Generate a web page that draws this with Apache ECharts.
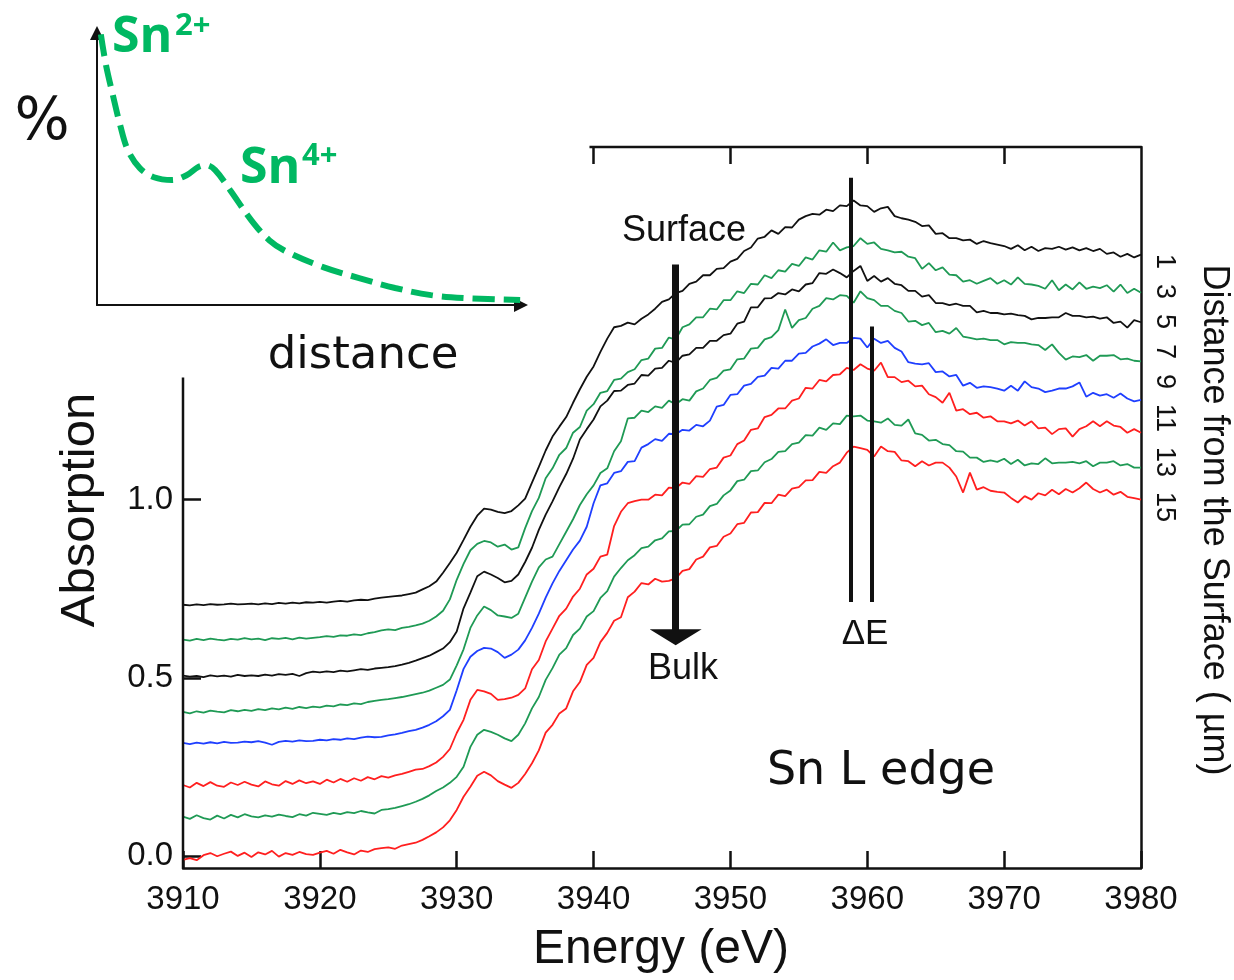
<!DOCTYPE html>
<html>
<head>
<meta charset="utf-8">
<script src="https://cdn.jsdelivr.net/npm/echarts@6/dist/echarts.min.js"></script>
<style>
  html, body { margin: 0; padding: 0; background: #fff; }
  #chart { width: 1234px; height: 980px; }
</style>
</head>
<body>
<div id="chart"></div>
<script>
// energy grid (eV), 0.5 eV steps
var ENERGY = [
  3910, 3910.5, 3911, 3911.5, 3912, 3912.5, 3913, 3913.5, 3914, 3914.5,
  3915, 3915.5, 3916, 3916.5, 3917, 3917.5, 3918, 3918.5, 3919, 3919.5,
  3920, 3920.5, 3921, 3921.5, 3922, 3922.5, 3923, 3923.5, 3924, 3924.5,
  3925, 3925.5, 3926, 3926.5, 3927, 3927.5, 3928, 3928.5, 3929, 3929.5,
  3930, 3930.5, 3931, 3931.5, 3932, 3932.5, 3933, 3933.5, 3934, 3934.5,
  3935, 3935.5, 3936, 3936.5, 3937, 3937.5, 3938, 3938.5, 3939, 3939.5,
  3940, 3940.5, 3941, 3941.5, 3942, 3942.5, 3943, 3943.5, 3944, 3944.5,
  3945, 3945.5, 3946, 3946.5, 3947, 3947.5, 3948, 3948.5, 3949, 3949.5,
  3950, 3950.5, 3951, 3951.5, 3952, 3952.5, 3953, 3953.5, 3954, 3954.5,
  3955, 3955.5, 3956, 3956.5, 3957, 3957.5, 3958, 3958.5, 3959, 3959.5,
  3960, 3960.5, 3961, 3961.5, 3962, 3962.5, 3963, 3963.5, 3964, 3964.5,
  3965, 3965.5, 3966, 3966.5, 3967, 3967.5, 3968, 3968.5, 3969, 3969.5,
  3970, 3970.5, 3971, 3971.5, 3972, 3972.5, 3973, 3973.5, 3974, 3974.5,
  3975, 3975.5, 3976, 3976.5, 3977, 3977.5, 3978, 3978.5, 3979, 3979.5,
  3980
];

// absorption spectra (offset), one per depth
var ABS_1UM = [
  .705,.703,.706,.704,.707,.705,.706,.708,.706,.707,
  .708,.706,.709,.707,.710,.708,.711,.709,.712,.711,
  .713,.711,.714,.716,.714,.717,.719,.718,.722,.725,
  .727,.729,.731,.735,.739,.748,.757,.770,.795,.822,
  .851,.887,.924,.955,.975,.972,.966,.962,.968,.984,
  1.003,1.048,1.092,1.138,1.177,1.205,1.232,1.272,1.310,1.345,
  1.374,1.415,1.452,1.484,1.488,1.497,1.492,1.508,1.520,1.536,
  1.555,1.562,1.580,1.586,1.606,1.612,1.630,1.630,1.648,1.650,
  1.668,1.676,1.698,1.708,1.733,1.738,1.756,1.746,1.765,1.764,
  1.786,1.796,1.802,1.800,1.814,1.810,1.826,1.824,1.840,1.826,
  1.824,1.808,1.818,1.822,1.796,1.790,1.786,1.780,1.768,1.770,
  1.746,1.748,1.734,1.734,1.728,1.730,1.718,1.726,1.720,1.716,
  1.712,1.704,1.714,1.700,1.710,1.698,1.706,1.704,1.710,1.702,
  1.708,1.700,1.706,1.698,1.704,1.690,1.694,1.682,1.690,1.680,
  1.688
];
var ABS_3UM = [
  .607,.604,.609,.606,.610,.607,.605,.609,.607,.611,
  .608,.610,.606,.611,.609,.612,.608,.613,.610,.612,
  .614,.617,.615,.619,.618,.622,.620,.625,.628,.633,
  .636,.634,.640,.643,.647,.652,.660,.672,.688,.720,
  .775,.820,.858,.876,.884,.880,.868,.874,.860,.866,
  .920,.968,1.005,1.060,1.088,1.126,1.145,1.188,1.204,1.250,
  1.268,1.300,1.305,1.336,1.340,1.358,1.366,1.392,1.396,1.424,
  1.426,1.455,1.450,1.484,1.492,1.512,1.512,1.536,1.534,1.560,
  1.560,1.585,1.580,1.606,1.604,1.630,1.622,1.644,1.640,1.662,
  1.656,1.680,1.674,1.700,1.696,1.722,1.700,1.708,1.712,1.734,
  1.718,1.722,1.704,1.700,1.694,1.696,1.682,1.678,1.648,1.664,
  1.644,1.652,1.632,1.630,1.612,1.616,1.606,1.614,1.622,1.606,
  1.616,1.604,1.624,1.606,1.604,1.600,1.592,1.616,1.588,1.604,
  1.590,1.610,1.592,1.598,1.594,1.602,1.584,1.604,1.580,1.592,
  1.581
];
var ABS_5UM = [
  .506,.503,.505,.502,.507,.504,.506,.503,.508,.505,
  .507,.505,.509,.506,.510,.508,.511,.505,.513,.517,
  .515,.518,.516,.520,.518,.521,.524,.522,.526,.528,
  .530,.533,.537,.542,.548,.555,.562,.572,.582,.600,
  .630,.695,.739,.785,.798,.790,.780,.768,.772,.790,
  .825,.865,.915,.958,.995,1.035,1.072,1.115,1.169,1.198,
  1.225,1.262,1.278,1.305,1.306,1.322,1.326,1.350,1.348,1.368,
  1.370,1.390,1.384,1.404,1.408,1.426,1.426,1.446,1.446,1.462,
  1.466,1.494,1.500,1.540,1.540,1.565,1.566,1.580,1.576,1.590,
  1.585,1.604,1.608,1.636,1.634,1.646,1.636,1.624,1.642,1.656,
  1.614,1.628,1.612,1.622,1.606,1.602,1.586,1.586,1.570,1.574,
  1.552,1.552,1.546,1.550,1.544,1.544,1.526,1.530,1.524,1.524,
  1.520,1.522,1.518,1.516,1.506,1.510,1.510,1.512,1.512,1.524,
  1.516,1.516,1.512,1.514,1.508,1.512,1.496,1.500,1.483,1.504,
  1.498
];
var ABS_7UM = [
  .404,.400,.406,.402,.408,.405,.403,.409,.406,.410,
  .407,.412,.409,.414,.411,.416,.413,.418,.415,.419,
  .417,.422,.420,.425,.423,.428,.426,.432,.435,.438,
  .440,.443,.446,.450,.454,.458,.464,.472,.480,.495,
  .535,.580,.640,.675,.700,.690,.675,.672,.668,.680,
  .725,.770,.810,.832,.840,.875,.910,.945,.985,1.015,
  1.040,1.075,1.088,1.136,1.164,1.228,1.230,1.250,1.246,1.262,
  1.258,1.278,1.268,1.282,1.278,1.304,1.312,1.336,1.342,1.362,
  1.366,1.394,1.396,1.424,1.426,1.450,1.456,1.476,1.534,1.482,
  1.504,1.510,1.536,1.544,1.566,1.562,1.574,1.572,1.553,1.585,
  1.566,1.560,1.544,1.544,1.530,1.524,1.500,1.502,1.490,1.496,
  1.470,1.474,1.466,1.482,1.458,1.454,1.450,1.452,1.448,1.448,
  1.436,1.442,1.440,1.440,1.436,1.434,1.420,1.436,1.412,1.393,
  1.402,1.400,1.406,1.390,1.404,1.404,1.406,1.394,1.396,1.390,
  1.388
];
var ABS_9UM = [
  .317,.314,.318,.315,.319,.316,.320,.317,.318,.321,
  .319,.322,.318,.312,.320,.323,.321,.324,.322,.323,
  .326,.324,.328,.326,.330,.328,.332,.335,.333,.334,
  .338,.341,.345,.350,.354,.360,.368,.378,.392,.410,
  .465,.525,.559,.575,.584,.582,.572,.556,.565,.579,
  .605,.640,.680,.725,.765,.800,.830,.860,.885,.924,
  .990,1.040,1.046,1.075,1.080,1.106,1.108,1.146,1.156,1.170,
  1.165,1.185,1.184,1.196,1.194,1.210,1.206,1.222,1.261,1.266,
  1.294,1.296,1.320,1.325,1.345,1.348,1.370,1.368,1.390,1.390,
  1.410,1.412,1.430,1.438,1.450,1.434,1.440,1.440,1.454,1.452,
  1.427,1.452,1.440,1.446,1.426,1.416,1.386,1.382,1.380,1.383,
  1.358,1.360,1.346,1.350,1.320,1.328,1.314,1.318,1.316,1.312,
  1.306,1.320,1.306,1.332,1.316,1.312,1.302,1.306,1.312,1.312,
  1.318,1.329,1.289,1.300,1.292,1.296,1.286,1.298,1.284,1.276,
  1.280
];
var ABS_11UM = [
  .199,.192,.205,.196,.207,.197,.194,.206,.199,.208,
  .200,.195,.209,.201,.197,.210,.202,.212,.204,.209,
  .202,.214,.206,.216,.208,.218,.211,.221,.215,.224,
  .220,.226,.230,.236,.242,.244,.252,.262,.278,.300,
  .345,.382,.438,.466,.462,.455,.438,.440,.444,.452,
  .470,.524,.550,.602,.638,.674,.694,.728,.750,.790,
  .806,.840,.846,.926,.966,.990,.996,1.000,1.000,1.014,
  1.012,1.034,1.032,1.048,1.044,1.066,1.064,1.086,1.090,1.118,
  1.124,1.156,1.166,1.196,1.200,1.232,1.238,1.256,1.256,1.278,
  1.284,1.314,1.312,1.336,1.332,1.350,1.352,1.370,1.364,1.380,
  1.368,1.362,1.385,1.344,1.344,1.330,1.334,1.318,1.320,1.296,
  1.288,1.272,1.300,1.250,1.254,1.240,1.244,1.230,1.234,1.220,
  1.220,1.214,1.222,1.208,1.220,1.200,1.202,1.184,1.198,1.200,
  1.177,1.198,1.206,1.220,1.206,1.220,1.208,1.204,1.188,1.198,
  1.188
];
var ABS_13UM = [
  .110,.104,.114,.106,.102,.113,.105,.115,.108,.117,
  .111,.108,.114,.110,.116,.112,.109,.117,.113,.121,
  .118,.115,.121,.117,.123,.120,.126,.122,.119,.129,
  .131,.135,.140,.145,.152,.160,.170,.182,.192,.205,
  .222,.250,.306,.340,.354,.348,.340,.330,.322,.340,
  .372,.414,.446,.494,.527,.565,.583,.620,.638,.672,
  .687,.724,.743,.784,.808,.830,.844,.864,.868,.886,
  .891,.911,.912,.930,.931,.952,.958,.982,.988,1.012,
  1.026,1.052,1.056,1.080,1.082,1.105,1.114,1.134,1.136,1.156,
  1.160,1.181,1.180,1.202,1.196,1.214,1.212,1.236,1.234,1.236,
  1.222,1.220,1.216,1.228,1.210,1.208,1.225,1.186,1.182,1.166,
  1.168,1.156,1.153,1.136,1.135,1.118,1.118,1.106,1.110,1.106,
  1.115,1.100,1.112,1.096,1.102,1.100,1.116,1.102,1.104,1.104,
  1.106,1.102,1.108,1.094,1.104,1.104,1.108,1.096,1.100,1.090,
  1.090
];
var ABS_15UM = [
  -.011,-.006,-.012,.002,.008,-.001,.006,.012,.000,.009,
  -.003,.010,.004,.014,-.002,.008,.003,.011,.005,.003,
  .009,.014,.006,.017,.010,.004,.015,.011,.019,.022,
  .024,.020,.029,.033,.037,.045,.055,.066,.080,.100,
  .129,.166,.194,.225,.236,.226,.210,.200,.191,.205,
  .230,.260,.296,.346,.368,.400,.414,.462,.488,.536,
  .556,.600,.626,.660,.670,.726,.742,.766,.762,.778,
  .770,.772,.779,.800,.805,.832,.840,.866,.870,.896,
  .905,.931,.935,.964,.965,.991,.990,1.014,1.010,1.031,
  1.035,1.054,1.055,1.078,1.075,1.094,1.104,1.132,1.149,1.145,
  1.140,1.121,1.149,1.136,1.134,1.110,1.108,1.094,1.108,1.096,
  1.104,1.104,1.090,1.065,1.020,1.076,1.028,1.035,1.025,1.022,
  1.020,1.005,.992,1.010,1.000,1.018,1.012,1.028,1.015,1.030,
  1.020,1.032,1.048,1.030,1.020,1.028,1.014,1.022,1.008,1.004,
  1.000
];

var DEPTH_LABELS = ["1", "3", "5", "7", "9", "11", "13", "15"];
var X_TICKS_TOP = [3940, 3950, 3960, 3970];
var Y_TICKS = [0, 0.5, 1.0];

// inset sketch: % vs distance (arbitrary units)
var INSET_DIST = [0.9, 2.1, 3.7, 5.4, 7.2, 10.0, 13.3, 17.5, 21.0, 23.6, 25.5, 27.6, 31.1, 36.0, 40.2, 44.4, 52.8, 61.2, 69.6, 78.0, 86.4, 98.8];
var INSET_PCT = [98.5, 87.3, 76.4, 65.5, 56.4, 49.8, 46.5, 45.5, 47.3, 50.2, 50.9, 49.1, 41.8, 30.9, 23.6, 19.3, 13.8, 9.8, 6.2, 3.6, 2.5, 1.8];

// annotation positions in data units
var ARROW_E = 3946.0, ARROW_TOP = 1.66, ARROW_END = 0.614;
var DE_E1 = 3958.8, DE_E2 = 3960.3, DE_TOP1 = 1.904, DE_TOP2 = 1.486, DE_BOTTOM = 0.713;

var Y_MIN = -0.034, Y_MAX = 1.99;

var BLACK = "#111111";
var GREEN = "#1f9a55";
var BLUE = "#1f3fff";
var RED = "#ff1f1f";
var INSET_GREEN = "#00b862";
var SANS = '"Liberation Sans", Arial, sans-serif';

var curves = [
  { name: "1", values: ABS_1UM, color: BLACK },
  { name: "3", values: ABS_3UM, color: GREEN },
  { name: "5", values: ABS_5UM, color: BLACK },
  { name: "7", values: ABS_7UM, color: GREEN },
  { name: "9", values: ABS_9UM, color: BLUE },
  { name: "11", values: ABS_11UM, color: RED },
  { name: "13", values: ABS_13UM, color: GREEN },
  { name: "15", values: ABS_15UM, color: RED },
];

var pair = (xs, ys) => xs.map((x, i) => [x, ys[i]]);

var series = curves.map((c) => ({
  name: c.name + " um",
  type: "line",
  xAxisIndex: 0,
  yAxisIndex: 0,
  data: pair(ENERGY, c.values),
  showSymbol: false,
  silent: true,
  lineStyle: { color: c.color, width: 1.8 },
  z: 3,
}));

// partial left axis line (the inset sits above it) + the two delta-E lines
series.push({
  name: "left frame",
  type: "line",
  xAxisIndex: 0,
  yAxisIndex: 0,
  data: [[3910, Y_MIN], [3910, 1.343]],
  showSymbol: false,
  silent: true,
  clip: false,
  lineStyle: { color: BLACK, width: 2.5 },
  markLine: {
    silent: true,
    animation: false,
    symbol: "none",
    label: { show: false },
    lineStyle: { color: BLACK, width: 4, type: "solid" },
    data: [
      [{ coord: [DE_E1, DE_TOP1] }, { coord: [DE_E1, DE_BOTTOM] }],
      [{ coord: [DE_E2, DE_TOP2] }, { coord: [DE_E2, DE_BOTTOM] }],
    ],
  },
});

// partial top axis line + surface->bulk arrow
series.push({
  name: "top frame",
  type: "line",
  xAxisIndex: 0,
  yAxisIndex: 0,
  data: [[3939.7, Y_MAX], [3980, Y_MAX]],
  showSymbol: false,
  silent: true,
  clip: false,
  lineStyle: { color: BLACK, width: 2.5 },
  markLine: {
    silent: true,
    animation: false,
    symbol: ["none", "triangle"],
    symbolSize: [52, 16],
    label: { show: false },
    lineStyle: { color: BLACK, width: 7, type: "solid" },
    itemStyle: { color: BLACK },
    data: [[{ coord: [ARROW_E, ARROW_TOP] }, { coord: [ARROW_E, ARROW_END] }]],
  },
});

// inset dashed curve
series.push({
  name: "inset",
  type: "line",
  xAxisIndex: 2,
  yAxisIndex: 2,
  data: pair(INSET_DIST, INSET_PCT),
  smooth: 0.35,
  showSymbol: false,
  silent: true,
  lineStyle: { color: INSET_GREEN, width: 6, type: [22, 9], cap: "butt" },
  z: 4,
});

var txt = (text, x, y, font, opts) =>
  Object.assign(
    {
      type: "text",
      x: x,
      y: y,
      silent: true,
      z: 10,
      style: {
        text: text,
        font: font,
        fill: (opts && opts.fill) || BLACK,
        textAlign: (opts && opts.align) || "center",
        textVerticalAlign: "middle",
        align: (opts && opts.align) || "center",
        verticalAlign: "middle",
      },
    },
    opts && opts.rotation != null ? { rotation: opts.rotation } : {}
  );

var graphics = [
  // inset texts
  txt("%", 42, 124, '58px "DejaVu Sans"'),
  txt("distance", 363, 356, '45px "DejaVu Sans"'),
  txt("Sn", 112, 38, 'bold 50px "Open Sans"', { fill: INSET_GREEN, align: "left" }),
  txt("2+", 175, 26, 'bold 31px "Open Sans"', { fill: INSET_GREEN, align: "left" }),
  txt("Sn", 240, 169, 'bold 50px "Open Sans"', { fill: INSET_GREEN, align: "left" }),
  txt("4+", 302, 156, 'bold 31px "Open Sans"', { fill: INSET_GREEN, align: "left" }),
  // main chart annotations
  txt("Surface", 684, 231, "36px " + SANS),
  txt("Bulk", 683, 669, "36px " + SANS),
  txt("\u0394E", 865, 634, "35px " + SANS),
  txt("Sn L edge", 881, 772, '46px "DejaVu Sans"'),
  txt(DEPTH_LABELS.join("  "), 1164, 388, "27px " + SANS, { rotation: -Math.PI / 2 }),
  txt("Distance from the Surface ( \u00b5m)", 1214, 520, "36px " + SANS, { rotation: -Math.PI / 2 }),
  txt("Absorption", 80, 510, "49px " + SANS, { rotation: Math.PI / 2 }),
  txt("Energy (eV)", 661, 950, "48px " + SANS),
];

var option = {
  backgroundColor: "#fff",
  animation: false,
  grid: [
    { left: 183, top: 147, width: 958, height: 721 },
    { left: 97, top: 33, width: 424, height: 272 },
  ],
  xAxis: [
    {
      type: "value",
      gridIndex: 0,
      position: "bottom",
      min: 3910,
      max: 3980,
      interval: 10,
      axisLine: { show: true, onZero: false, lineStyle: { color: BLACK, width: 2.5 } },
      axisTick: { show: true, inside: true, length: 17, lineStyle: { color: BLACK, width: 2.5 } },
      axisLabel: {
        show: true,
        margin: 15,
        fontSize: 33,
        fontFamily: SANS,
        color: BLACK,
        showMinLabel: true,
        showMaxLabel: true,
        formatter: (v) => String(v),
      },
      splitLine: { show: false },
    },
    {
      type: "value",
      gridIndex: 0,
      position: "top",
      min: 3910,
      max: 3980,
      axisLine: { show: false, onZero: false },
      axisTick: {
        show: true,
        inside: true,
        length: 17,
        customValues: X_TICKS_TOP,
        lineStyle: { color: BLACK, width: 2.5 },
      },
      axisLabel: { show: false },
      splitLine: { show: false },
    },
    {
      type: "value",
      gridIndex: 1,
      min: 0,
      max: 99,
      axisLine: {
        show: true,
        onZero: false,
        symbol: ["none", "triangle"],
        symbolSize: [14, 14],
        lineStyle: { color: BLACK, width: 2 },
      },
      axisTick: { show: false },
      axisLabel: { show: false },
      splitLine: { show: false },
    },
  ],
  yAxis: [
    {
      type: "value",
      gridIndex: 0,
      position: "left",
      min: Y_MIN,
      max: Y_MAX,
      axisLine: { show: false, onZero: false },
      axisTick: {
        show: true,
        inside: true,
        length: 18,
        customValues: Y_TICKS,
        lineStyle: { color: BLACK, width: 2.5 },
      },
      axisLabel: {
        show: true,
        customValues: Y_TICKS,
        formatter: (v) => Number(v).toFixed(1),
        margin: 10,
        fontSize: 33,
        fontFamily: SANS,
        color: BLACK,
      },
      splitLine: { show: false },
    },
    {
      type: "value",
      gridIndex: 0,
      position: "right",
      min: Y_MIN,
      max: Y_MAX,
      axisLine: { show: true, onZero: false, lineStyle: { color: BLACK, width: 2.5 } },
      axisTick: { show: false },
      axisLabel: { show: false },
      splitLine: { show: false },
    },
    {
      type: "value",
      gridIndex: 1,
      min: 0,
      max: 99,
      axisLine: {
        show: true,
        onZero: false,
        symbol: ["none", "triangle"],
        symbolSize: [14, 14],
        lineStyle: { color: BLACK, width: 2 },
      },
      axisTick: { show: false },
      axisLabel: { show: false },
      splitLine: { show: false },
    },
  ],
  series: series,
  graphic: graphics,
};

var chart = echarts.init(document.getElementById("chart"), null, { renderer: "canvas" });
chart.setOption(option);
</script>
</body>
</html>
